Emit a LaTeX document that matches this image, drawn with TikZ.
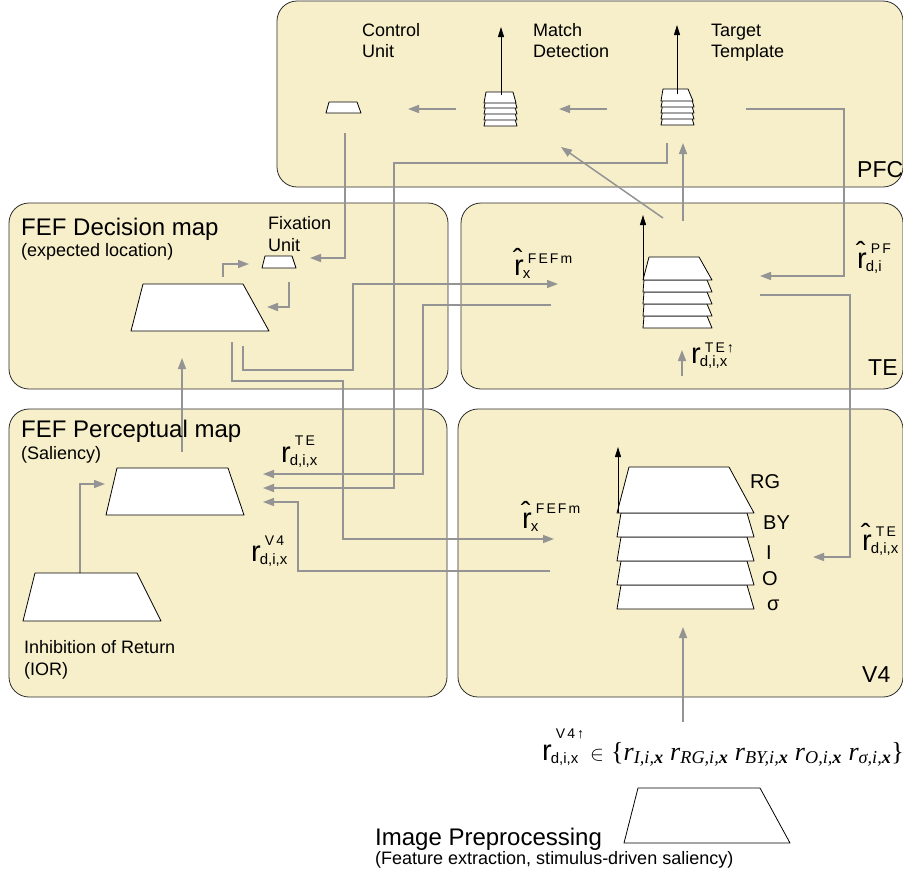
\documentclass[tikz,border=0pt]{standalone}
\usepackage{fontspec}
\setmainfont{Liberation Sans}
\newfontfamily\seriffont{Liberation Serif}
\usetikzlibrary{arrows.meta}

\definecolor{panelfill}{RGB}{246,239,201}
\definecolor{panelline}{RGB}{45,45,45}
\definecolor{linkgray}{RGB}{148,148,148}

% r with superscript and subscript, as used for the signals
\newcommand{\rlab}[4][15pt]{{\fontsize{29}{29}\selectfont #2}\kern-1pt\rlap{\raisebox{-3pt}{\fontsize{15}{15}\selectfont #4}}\kern5pt\raisebox{#1}{\fontsize{14}{14}\selectfont\addfontfeature{LetterSpace=15}#3}}
\newcommand{\rfeat}[1]{\textit{r}\textsubscript{\textit{#1}}}

\begin{document}
\begin{tikzpicture}[x=1pt,y=-1pt,
    panel/.style={draw=panelline,fill=panelfill,line width=0.8pt,rounded corners=20pt},
    layer/.style={draw=black,fill=white,line width=0.8pt,line join=round},
    conn/.style={draw=linkgray,line width=1.5pt,-{Triangle[length=11pt,width=8pt]}},
    feed/.style={draw=black,line width=1pt,-{Triangle[length=10pt,width=6pt]}},
    lbl/.style={anchor=base west,inner sep=0pt,font=\fontsize{18}{18}\selectfont},
    big/.style={anchor=base west,inner sep=0pt,font=\fontsize{24}{24}\selectfont},
    region/.style={anchor=base west,inner sep=0pt,font=\fontsize{23}{23}\selectfont},
    chan/.style={anchor=base west,inner sep=0pt,font=\fontsize{20}{20}\selectfont},
    sig/.style={anchor=base west,inner sep=0pt}]
    \useasboundingbox[fill=white] (0,0) rectangle (903,876);

    % areas
    \draw[panel] (277,1) rectangle (903,187);
    \draw[panel] (9,203) rectangle (448,389);
    \draw[panel] (461,203) rectangle (903,389);
    \draw[panel] (9,409) rectangle (447,697);
    \draw[panel] (458,409) rectangle (903,697);

    % ends of the connections
    \coordinate (md-w) at (456,109);  \coordinate (cu-e) at (408,109);
    \coordinate (tt-w) at (607,109);  \coordinate (md-e) at (559,109);
    \coordinate (tt-e) at (746,109);  \coordinate (pf-bend) at (844,276);
    \coordinate (te-pf) at (760,276);
    \coordinate (cu-s) at (345,133);  \coordinate (fx-e) at (310,258);
    \coordinate (tt-s) at (667,143);  \coordinate (tt-bend) at (394,163);
    \coordinate (pm-tt) at (263,488);
    \coordinate (te-nw) at (663,218); \coordinate (md-s) at (561,147);
    \coordinate (te-n) at (683,221);  \coordinate (tt-in) at (683,143);
    \coordinate (te-e) at (760,295);  \coordinate (te-bend) at (850,557);
    \coordinate (v4-te) at (813,557);
    \coordinate (dm-s2) at (243,346); \coordinate (dm-bend2) at (353,370);
    \coordinate (te-fef) at (558,284);
    \coordinate (te-w) at (551,305);  \coordinate (tw-bend) at (423,474);
    \coordinate (pm-te) at (263,474);
    \coordinate (dm-s1) at (232,342); \coordinate (dm-bend1) at (343,381);
    \coordinate (v4-fef) at (554,539);
    \coordinate (v4-w) at (550,571);  \coordinate (v4-bend) at (298,502);
    \coordinate (pm-v4) at (263,502);
    \coordinate (pm-n) at (182,452);  \coordinate (dm-in) at (182,358);
    \coordinate (ior-n) at (80,588);  \coordinate (pm-w) at (105,484);
    \coordinate (dm-ne) at (223,277); \coordinate (fx-w) at (249,264);
    \coordinate (fx-s) at (289,282);  \coordinate (dm-e) at (267,307);
    \coordinate (ip-n) at (683,722);  \coordinate (v4-s) at (683,627);
    \coordinate (te-lo) at (682,376); \coordinate (te-hi) at (682,350);

    \draw[conn] (md-w) -- (cu-e);
    \draw[conn] (tt-w) -- (md-e);
    \draw[conn] (tt-e) -| (pf-bend) -- (te-pf);
    \draw[conn] (cu-s) |- (fx-e);
    \draw[conn] (tt-s) |- (tt-bend) |- (pm-tt);
    \draw[conn] (te-nw) -- (md-s);
    \draw[conn] (te-n) -- (tt-in);
    \draw[conn] (te-e) -| (te-bend) -- (v4-te);
    \draw[conn] (dm-s2) |- (dm-bend2) |- (te-fef);
    \draw[conn] (te-w) -| (tw-bend) -- (pm-te);
    \draw[conn] (dm-s1) |- (dm-bend1) |- (v4-fef);
    \draw[conn] (v4-w) -| (v4-bend) -- (pm-v4);
    \draw[conn] (pm-n) -- (dm-in);
    \draw[conn] (ior-n) |- (pm-w);
    \draw[conn] (dm-ne) |- (fx-w);
    \draw[conn] (fx-s) |- (dm-e);
    \draw[conn] (ip-n) -- (v4-s);
    \draw[conn] (te-lo) -- (te-hi);

    % PFC units
    \draw[layer] (329,102) -- (357,102) -- (361,113) -- (326,113) -- cycle;
    \foreach \b in {126,120,114,108}
        \draw[layer] (485.5,\b-7) -- (515,\b-7) -- (517,\b) -- (484,\b) -- cycle;
    \draw[layer] (486,92) -- (513,92) -- (516,103) -- (484,103) -- cycle;
    \foreach \b in {125,119,113,107}
        \draw[layer] (662.5,\b-7) -- (692,\b-7) -- (694,\b) -- (661,\b) -- cycle;
    \draw[layer] (663,89) -- (688,89) -- (693,101) -- (661,101) -- cycle;
    \coordinate (md-top) at (501,95);  \coordinate (md-out) at (501,27);
    \coordinate (tt-top) at (677,94);  \coordinate (tt-out) at (677,25);
    \draw[feed] (md-top) -- (md-out);
    \draw[feed] (tt-top) -- (tt-out);

    % FEF maps
    \draw[layer] (265,256) -- (292,256) -- (296,268) -- (262,268) -- cycle;
    \draw[layer] (143,284) -- (243,284) -- (269,331) -- (131,331) -- cycle;
    \draw[layer] (117,468) -- (228,468) -- (244,515) -- (106,515) -- cycle;
    \draw[layer] (35,573) -- (137,573) -- (161,621) -- (23,621) -- cycle;

    % TE stack
    \foreach \b in {328,316,304,292}
        \draw[layer] (644,\b-12) -- (707,\b-12) -- (712,\b) -- (643,\b) -- cycle;
    \draw[layer] (649,257) -- (699,257) -- (712,280) -- (643,280) -- cycle;
    \coordinate (te-top) at (643,280); \coordinate (te-out) at (643,215);
    \draw[feed] (te-top) -- (te-out);

    % V4 stack
    \foreach \b in {609,585,561,537}
        \draw[layer] (621,\b-24) -- (747,\b-24) -- (754,\b) -- (617,\b) -- cycle;
    \draw[layer] (629,467) -- (729,467) -- (754,513) -- (617,513) -- cycle;
    \coordinate (v4-top) at (618,513); \coordinate (v4-out) at (618,447);
    \draw[feed] (v4-top) -- (v4-out);

    % input image
    \draw[layer] (638,788) -- (760,788) -- (790,843) -- (624,843) -- cycle;

    % labels
    \node[lbl] (cu1) at (362,36) {Control};
    \node[lbl] (cu2) at (362,57) {Unit};
    \node[lbl] (md1) at (533,36) {Match};
    \node[lbl] (md2) at (533,57) {Detection};
    \node[lbl] (tt1) at (711,36) {Target};
    \node[lbl] (tt2) at (711,57) {Template};
    \node[region] (pfc) at (857,177) {PFC};

    \node[big] (dm1) at (21,235) {FEF Decision map};
    \node[lbl] (dm2) at (21,256) {(expected location)};
    \node[lbl] (fx1) at (268,229) {Fixation};
    \node[lbl] (fx2) at (268,251) {Unit};

    \node[big] (pm1) at (21,437) {FEF Perceptual map};
    \node[lbl] (pm2) at (21,459) {(Saliency)};
    \node[lbl] (ior1) at (24,653) {Inhibition of Return};
    \node[lbl] (ior2) at (24,675) {(IOR)};

    \node[region] (te) at (868,375) {TE};
    \node[region] (v4) at (862,682) {V4};

    \node[chan] (ch-rg) at (750,488) {RG};
    \node[chan] (ch-by) at (763,529) {BY};
    \node[chan] (ch-i) at (766,559) {I};
    \node[chan] (ch-o) at (762,585) {O};
    \node[chan] (ch-s) at (767,610) {σ};

    \node[sig] (r-fefm-te) at (514,275) {\rlab[12pt]{\^r}{FEFm}{x}};
    \node[sig] (r-pf) at (857,268) {\rlab[15pt]{\^r}{PF}{d,i}};
    \node[sig] (r-te-up) at (691,363) {\rlab[11pt]{r}{TE↑}{d,i,x}};
    \node[sig] (r-te) at (281,462) {\rlab[17pt]{r}{TE}{d,i,x}};
    \node[sig] (r-v4) at (251,561) {\rlab[16pt]{r}{V4}{d,i,x}};
    \node[sig] (r-fefm-v4) at (522,528) {\rlab[15pt]{\^r}{FEFm}{x}};
    \node[sig] (r-te-v4) at (862,550) {\rlab[14pt]{\^r}{TE}{d,i,x}};
    \node[sig] (r-v4-up) at (542,760) {\rlab[22pt]{r}{V4↑}{d,i,x}};
    \node[sig] (elem) at (590,760) {\fontsize{20}{20}\selectfont$\in$};
    \node[sig] (featset) at (611,760) {\seriffont\fontsize{26}{26}\selectfont\{\rfeat{I,i,\textbf{x}} \rfeat{RG,i,\textbf{x}} \rfeat{BY,i,\textbf{x}} \rfeat{O,i,\textbf{x}} \rfeat{σ,i,\textbf{x}}\}};

    \node[big] (ip1) at (375,845) {Image Preprocessing};
    \node[lbl] (ip2) at (375,864) {(Feature extraction, stimulus-driven saliency)};
\end{tikzpicture}
\end{document}
